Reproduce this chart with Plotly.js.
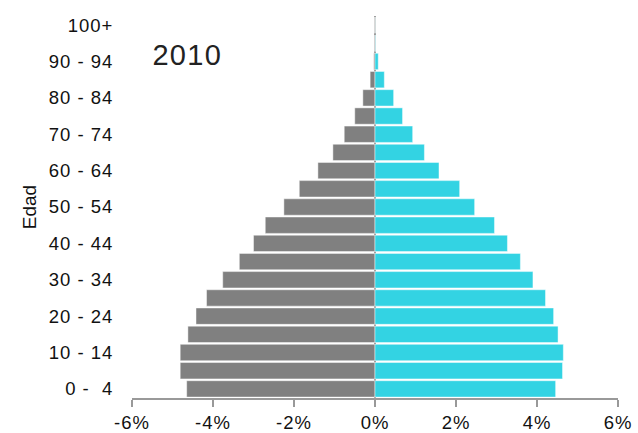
<!DOCTYPE html>
<html>
<head>
<meta charset="utf-8">
<script src="https://cdn.plot.ly/plotly-3.0.1.min.js"></script>
<style>
html,body{margin:0;padding:0;background:#fff;}
#chart{width:638px;height:433px;}
#chart .xtick text, #chart .ytick text{letter-spacing:1px;}
#chart .annotation-text{letter-spacing:1.3px;}
</style>
</head>
<body>
<div id="chart"></div>
<script>
const ageGroups = ["0 -  4","5 - 9","10 - 14","15 - 19","20 - 24","25 - 29","30 - 34","35 - 39","40 - 44","45 - 49","50 - 54","55 - 59","60 - 64","65 - 69","70 - 74","75 - 79","80 - 84","85 - 89","90 - 94","95 - 99","100+"];
const maleShare = [4.65,4.81,4.81,4.62,4.42,4.16,3.76,3.35,3.00,2.71,2.25,1.87,1.41,1.04,0.76,0.50,0.30,0.12,0.03,0.005,0.001];
const femaleShare = [4.46,4.63,4.65,4.52,4.41,4.21,3.90,3.59,3.27,2.95,2.46,2.09,1.58,1.22,0.93,0.68,0.46,0.23,0.08,0.01,0.002];
const yTickLabels = ["0 -  4","10 - 14","20 - 24","30 - 34","40 - 44","50 - 54","60 - 64","70 - 74","80 - 84","90 - 94","100+"];
const xTickVals = [-6,-4,-2,0,2,4,6];
const xTickText = ["-6%","-4%","-2%","0%","2%","4%","6%"];
const yearLabel = "2010";

const traces = [
  {type:"bar", orientation:"h", y:ageGroups, x:maleShare.map(v=>-v), name:"Hombres",
   marker:{color:"#808080", line:{color:"rgba(255,255,255,0.45)", width:1}}, hoverinfo:"none"},
  {type:"bar", orientation:"h", y:ageGroups, x:femaleShare, name:"Mujeres",
   marker:{color:"#33d3e3", line:{color:"rgba(255,255,255,0.45)", width:1}}, hoverinfo:"none"}
];
const layout = {
  width:638, height:433,
  margin:{l:132, r:20, t:16, b:35},
  paper_bgcolor:"#fff", plot_bgcolor:"#fff",
  font:{family:"Liberation Sans, Arial, sans-serif", size:18, color:"#111"},
  barmode:"relative", bargap:0.1,
  showlegend:false,
  xaxis:{range:[-6,6], tickvals:xTickVals, ticktext:xTickText, showgrid:false,
    zeroline:true, zerolinecolor:"#999", zerolinewidth:1.5,
    showline:true, linecolor:"#999", linewidth:1.5, ticks:"outside", ticklen:7, tickcolor:"#999", tickwidth:1.5,
    tickfont:{size:18.5, color:"#111"}, fixedrange:true},
  yaxis:{type:"category", categoryorder:"array", categoryarray:ageGroups, range:[-0.5,20.5],
    tickvals:yTickLabels, ticktext:yTickLabels, showgrid:false, zeroline:false, showline:false,
    ticks:"outside", ticklen:14, tickcolor:"rgba(0,0,0,0)",
    tickfont:{size:18.5, color:"#111"},
    title:{text:"Edad", font:{size:19, color:"#111"}, standoff:14}, automargin:false, fixedrange:true},
  annotations:[{text:yearLabel, xref:"paper", yref:"paper", x:0.043, y:0.898, xanchor:"left", yanchor:"middle",
    showarrow:false, font:{size:29, color:"#222"}}]
};
Plotly.newPlot("chart", traces, layout, {displayModeBar:false, staticPlot:true});
</script>
</body>
</html>
